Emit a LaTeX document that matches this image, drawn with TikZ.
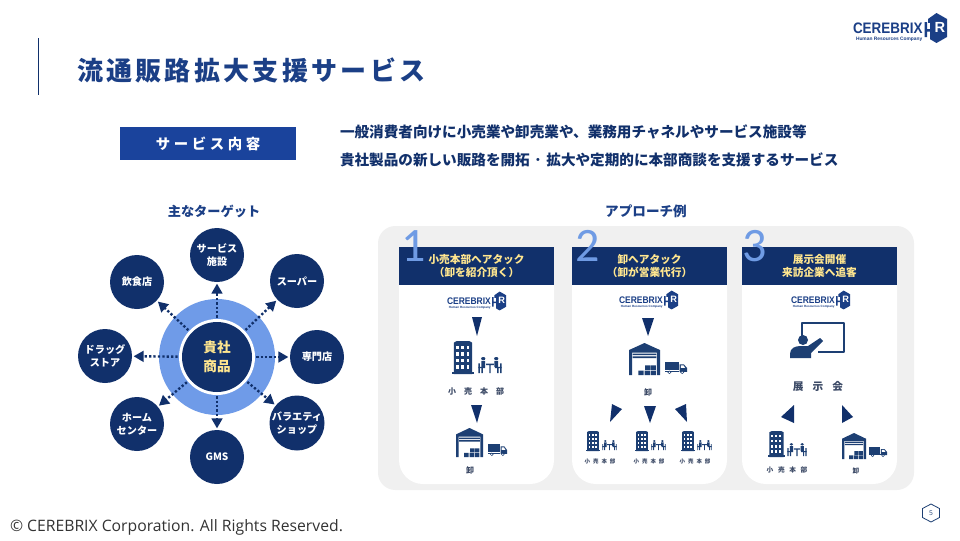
\documentclass[tikz,border=0pt]{standalone}
\usepackage{fontspec}
\setmainfont{Noto Sans CJK JP}
\newfontfamily\lib{Liberation Sans}
\newfontfamily\opensans{Open Sans}
\newfontfamily\carlito{Carlito}
\usetikzlibrary{arrows.meta}
\definecolor{navy}{HTML}{11306B}
\definecolor{titleblue}{HTML}{1B3F86}
\definecolor{boxblue}{HTML}{1A439C}
\definecolor{ringblue}{HTML}{6F9BE8}
\definecolor{panel}{HTML}{F0F0F0}
\definecolor{gold}{HTML}{FFE68F}
\definecolor{numblue}{HTML}{6F9BE4}
\definecolor{iconblue}{HTML}{1D3F73}
\definecolor{labelgray}{HTML}{3C4A66}
\newcommand\fz[2]{\fontsize{#1}{#2}\selectfont}
\newcommand\spaced[1]{\addfontfeature{LetterSpace=#1}}
\tikzset{
  txt/.style={inner sep=0pt,outer sep=0pt},
  target/.style={circle,fill=navy,minimum size=40.5pt,inner sep=0pt,text=white,align=center,font=\bfseries\fz{7.6}{10}},
  flow/.style={navy,line width=1.8pt,dash pattern=on 1.7pt off 1.6pt,-{Triangle[length=7.5pt,width=8pt]},shorten >=1pt,shorten <=3pt},
  head/.style={fill=navy,minimum width=116.25pt,minimum height=28.5pt,inner sep=0pt,text=gold,align=center,font=\bfseries\fz{8}{9.8}},
  num/.style={txt,text=numblue,font=\carlito\fz{36}{36}},
  lab/.style={txt,text=labelgray,font=\bfseries},
  tri/.style={fill=navy,draw=none},
}
% unit icons drawn in a 100 x 100 box
\newcommand\building[4]{\begin{scope}[shift={(#1,#2)},xscale=#3/100,yscale=#4/100]
  \fill[iconblue] (8,100) -- (8,5) -- (22,0) -- (78,0) -- (92,5) -- (92,100) -- cycle;
  \fill[iconblue] (0,94) rectangle (100,100);
  \foreach \i in {0,1,2}{\foreach \j in {0,1,2,3}{
    \fill[white] ({20+\i*23},{14+\j*20}) rectangle ({31+\i*23},{24+\j*20});}}
\end{scope}}
\newcommand\people[4]{\begin{scope}[shift={(#1,#2)},xscale=#3/100,yscale=#4/100]
  \fill[iconblue] (22,10) circle (9 and 10) (76,10) circle (9 and 10);
  \fill[iconblue] (14,24) rectangle (30,62) (68,24) rectangle (84,62);
  \fill[iconblue] (2,40) rectangle (8,100) (92,40) rectangle (98,100);
  \fill[iconblue] (2,62) rectangle (30,70) (70,62) rectangle (98,70);
  \fill[iconblue] (14,70) rectangle (20,100) (80,70) rectangle (86,100);
  \fill[iconblue] (34,42) rectangle (66,50) (47,50) rectangle (53,100);
\end{scope}}
\newcommand\warehouse[4]{\begin{scope}[shift={(#1,#2)},xscale=#3/100,yscale=#4/100]
  \fill[iconblue] (0,100) -- (0,22) -- (50,0) -- (100,22) -- (100,100) -- (90,100) -- (90,30) -- (10,30) -- (10,100) -- cycle;
  \fill[iconblue] (12,33) rectangle (88,38) (12,42) rectangle (88,47);
  \fill[iconblue] (30,86) rectangle (47,100) (50,86) rectangle (67,100) (70,86) rectangle (87,100);
  \fill[iconblue] (52,70) rectangle (68,84) (70,70) rectangle (87,84);
\end{scope}}
\newcommand\truck[4]{\begin{scope}[shift={(#1,#2)},xscale=#3/100,yscale=#4/100]
  \fill[iconblue] (0,0) rectangle (62,68);
  \fill[iconblue] (66,20) -- (86,20) -- (100,50) -- (100,82) -- (66,82) -- cycle;
  \fill[iconblue] (0,72) rectangle (64,82);
  \fill[white] (72,28) -- (84,28) -- (91,48) -- (72,48) -- cycle;
  \fill[iconblue] (20,86) circle (9 and 14) (78,86) circle (9 and 14);
  \fill[white] (20,86) circle (4 and 6) (78,86) circle (4 and 6);
\end{scope}}
% logo: origin at the left end of the word, vertically centred
\newcommand\logo[4]{\begin{scope}[shift={(#1,#2)},scale=#3]
  \node[txt,anchor=west,transform shape,xscale=.885,text=titleblue,font=\lib\bfseries\fz{11.4}{12}] (#4word) at (0,0) {CEREBRIX};
  \node[txt,anchor=west,transform shape,text=titleblue,font=\lib\bfseries\fz{3.65}{4}] (#4sub) at (3,11) {Human Resources Company};
  \fill[titleblue] (83.5,-15) -- (94,-9) -- (94,9) -- (83.5,15) -- (75,10) -- (75,-9) -- cycle;
  \fill[white] (70,-5) rectangle (77,16);
  \fill[titleblue] (71.5,-6) rectangle (74,9) (79,-6) rectangle (81.5,9) (71.5,1) rectangle (81.5,3.5);
  \node[txt,transform shape,text=white,font=\lib\bfseries\fz{11}{12}] (#4r) at (87,-1) {R};
\end{scope}}
\begin{document}
\begin{tikzpicture}[x=.75pt,y=-.75pt]
\useasboundingbox (0,0) rectangle (960,540);
\fill[white] (0,0) rectangle (960,540);
\fill[navy] (37.5,38) rectangle (38.7,95);
\node[txt,anchor=west,text=titleblue,font=\bfseries\fz{19.5}{20}\spaced{12.8}] (title) at (77,70) {流通販路拡大支援サービス};
\logo{853}{28}{1}{top}
\node[fill=boxblue,minimum width=132pt,minimum height=24.75pt,inner sep=0pt,text=white,font=\bfseries\fz{10.8}{12}\spaced{25}] (svc) at (208,143.5) {サービス内容};
\node[txt,anchor=west,text=navy,font=\bfseries\fz{10.95}{12}] (l1) at (340,132) {一般消費者向けに小売業や卸売業や、業務用チャネルやサービス施設等};
\node[txt,anchor=west,text=navy,font=\bfseries\fz{10.95}{12}] (l2) at (340,160) {貴社製品の新しい販路を開拓\kern3.5pt･\kern3.5pt 拡大や定期的に本部商談を支援するサービス};
\node[txt,text=titleblue,font=\bfseries\fz{9.9}{12}] (t1) at (214,211) {主なターゲット};
\node[txt,text=titleblue,font=\bfseries\fz{10.2}{12}] (t2) at (646,211) {アプローチ例};
% hub
\node[circle,fill=ringblue,minimum size=87pt,inner sep=0pt] (ring) at (217,357) {};
\node[circle,fill=white,minimum size=57pt,inner sep=0pt] (gap) at (217,357) {};
\node[target,name=a,at={(217,255)}] {サービス\\施設};
\node[target,name=b,at={(297,281)}] {スーパー};
\node[target,name=c,at={(317,357)}] {専門店};
\node[target,name=d,at={(297,423)}] {バラエティ\\ショップ};
\node[target,name=e,at={(217,457)}] {GMS};
\node[target,name=f,at={(137,424)}] {ホーム\\センター};
\node[target,name=g,at={(105,356)}] {ドラッグ\\ストア};
\node[target,name=h,at={(137,282)}] {飲食店};
\node[circle,fill=navy,minimum size=52.5pt,inner sep=0pt,text=gold,align=center,font=\bfseries\fz{10.2}{14.5}] (hub) at (217,357) {貴社\\商品};
\foreach \n in {a,b,c,d,e,f,g,h}{\draw[flow] (hub) -- (\n);}
% panel and cards
\fill[panel,rounded corners=13pt] (378,226) rectangle (914,490);
\foreach \x in {399,572,742}{
  \fill[white,rounded corners=18pt] (\x,260) rectangle (\x+155,484);
  \fill[white] (\x,247) rectangle (\x+155,290);}
\node[head] (h1) at (476.5,266) {小売本部へアタック\\（卸を紹介頂く）};
\node[head] (h2) at (649.5,266) {卸へアタック\\（卸が営業代行）};
\node[head] (h3) at (819.5,266) {展示会開催\\来訪企業へ追客};
\node[num] (n1) at (414,246) {1};
\node[num] (n2) at (588,246) {2};
\node[num] (n3) at (755,246) {3};
% card 1
\logo{447}{301}{.63}{la}
\fill[tri] (472,317) -- (482,317) -- (477,336) -- cycle;
\building{452}{341}{22}{33}
\people{478}{357}{24}{16}
\node[lab,font=\bfseries\fz{6}{7}\spaced{100}] (c1a) at (476,391) {小売本部};
\fill[tri] (471,405) -- (482,405) -- (477,423) -- cycle;
\warehouse{456}{428}{27}{29}
\truck{488}{444}{19}{12}
\node[lab,font=\bfseries\fz{6}{7}] (c1b) at (470,470) {卸};
% card 2
\logo{619}{300}{.63}{lb}
\fill[tri] (642,318) -- (654,318) -- (648,336) -- cycle;
\warehouse{629}{343}{31}{32}
\truck{665}{362}{22}{12}
\node[lab,font=\bfseries\fz{6}{7}] (c2a) at (648,392) {卸};
\fill[tri] (612,404) -- (622,409) -- (610,422) -- cycle;
\fill[tri] (644,406) -- (656,406) -- (650,423) -- cycle;
\fill[tri] (675,409) -- (686,404) -- (687,422) -- cycle;
\building{586}{431}{14}{20}
\people{602}{440}{15}{10}
\building{635}{431}{14}{20}
\people{651}{440}{15}{10}
\building{681}{431}{14}{20}
\people{697}{440}{15}{10}
\node[lab,font=\bfseries\fz{4.1}{5}\spaced{55}] (c2b) at (600,461) {小売本部};
\node[lab,font=\bfseries\fz{4.1}{5}\spaced{55}] (c2c) at (649,461) {小売本部};
\node[lab,font=\bfseries\fz{4.1}{5}\spaced{55}] (c2d) at (695,461) {小売本部};
% card 3
\logo{791}{300}{.63}{lc}
\draw[iconblue,line width=2pt,line join=round] (802,336) -- (802,323) -- (844,323) -- (844,352) -- (818,352);
\fill[iconblue] (803,340) circle (5);
\fill[iconblue] (790,358) -- (790,354) .. controls (790,348) and (795,346) .. (801,346) -- (808,346) -- (820,338) -- (823,341) -- (811,353) -- (811,358) -- cycle;
\node[lab,text=labelgray,font=\bfseries\fz{8}{9}\spaced{85}] (c3a) at (818,386) {展示会};
\fill[tri] (794,405) -- (794,423) -- (781,417) -- cycle;
\fill[tri] (842,405) -- (842,423) -- (853,417) -- cycle;
\building{768}{431}{17}{26}
\people{787}{443}{20}{13}
\node[lab,font=\bfseries\fz{5}{6}\spaced{70}] (c3b) at (787,470) {小売本部};
\warehouse{842}{433}{24}{26}
\truck{869}{447}{18}{10}
\node[lab,font=\bfseries\fz{5}{6}] (c3c) at (856,471) {卸};
% footer
\node[txt,anchor=west,text=black!80,font=\opensans\fz{11.8}{13}] (copy) at (10,527) {© CEREBRIX Corporation. All Rights Reserved.};
\draw[iconblue,line width=.6pt] (931,504) -- (939.5,508.5) -- (939.5,517.5) -- (931,522) -- (922.5,517.5) -- (922.5,508.5) -- cycle;
\node[txt,text=iconblue,font=\opensans\fz{5}{6}] (pg) at (931,513) {5};
\end{tikzpicture}
\end{document}
